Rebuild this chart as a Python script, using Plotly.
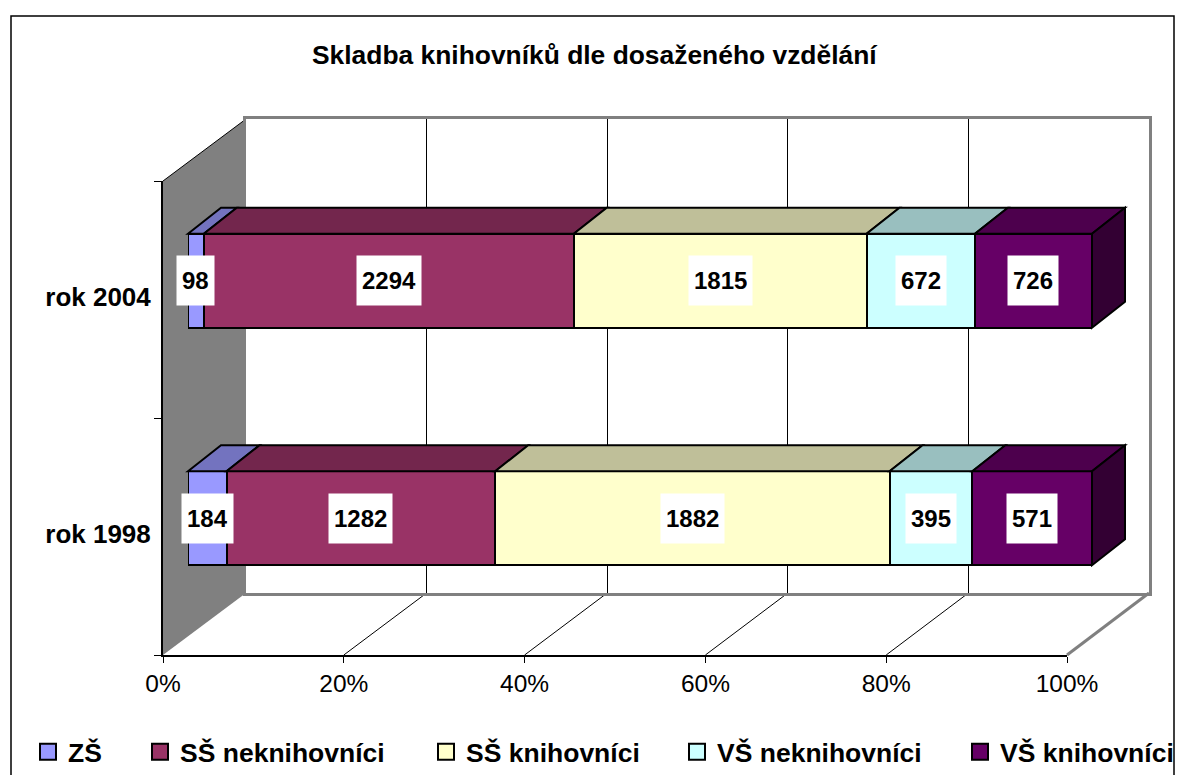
import plotly.graph_objects as go

W, H = 1178, 775

title = "Skladba knihovníků dle dosaženého vzdělání"
categories = ["rok 1998", "rok 2004"]
series_names = ["ZŠ", "SŠ neknihovníci", "SŠ knihovníci", "VŠ neknihovníci", "VŠ knihovníci"]
zs = [184, 98]
ss_nek = [1282, 2294]
ss_kni = [1882, 1815]
vs_nek = [395, 672]
vs_kni = [571, 726]
series_values = [zs, ss_nek, ss_kni, vs_nek, vs_kni]

front_colors = ["#9999FF", "#993366", "#FFFFCC", "#CCFFFF", "#660066"]
top_colors = ["#7373BF", "#73264D", "#BFBF99", "#99BFBF", "#4D004D"]
side_color = "#330033"
tick_vals = [0, 20, 40, 60, 80, 100]
legend_x_px = [28, 140, 426, 677, 960]

# layout geometry in pixels
FRONT_L, FRONT_R, FRONT_T, FRONT_B = 163, 1067, 181, 655
WALL_L, WALL_R, WALL_T, WALL_B = 246, 1149, 119, 593
BAR_L, BAR_R, BAR_T, BAR_B = 188, 1092, 162, 637
DX, DY = 33, -26
BAR_PX = 94
BAND_PX = (BAR_B - BAR_T) / 2


def X(p):
    return p / W


def Y(p):
    return 1 - p / H


def dom(a, b):
    return [a / W, b / W]


def ydom(top, bottom):
    return [1 - bottom / H, 1 - top / H]


def path(points):
    return "M " + " L ".join(f"{X(a):.5f},{Y(b):.5f}" for a, b in points) + " Z"


FONT = "Liberation Sans, Arial, sans-serif"
fig = go.Figure()

# subplot 1: the back wall, drawn first so the bars cover its grid
for name, color, lg in zip(series_names, front_colors, ["legend", "legend2", "legend3", "legend4", "legend5"]):
    fig.add_trace(go.Scatter(
        x=[None], y=[None], name=name, mode="markers", legend=lg, xaxis="x", yaxis="y",
        marker=dict(symbol="square", size=16, color=color, line=dict(color="black", width=2)),
        hoverinfo="skip"))

# subplot 2: the front axes, holding the tick labels
fig.add_trace(go.Scatter(x=[0, 0], y=categories, mode="none", xaxis="x2", yaxis="y2",
                         showlegend=False, hoverinfo="skip"))

# subplot 3: the stacked bars
for name, vals, color in zip(series_names, series_values, front_colors):
    fig.add_trace(go.Bar(
        y=categories, x=vals, name=name, orientation="h", xaxis="x3", yaxis="y3",
        showlegend=False, marker=dict(color=color, line=dict(color="black", width=2))))

shapes = []
annotations = []


def bar_px(value):
    return BAR_L + (BAR_R - BAR_L) * value / 100


# left wall, floor lines
shapes.append(dict(type="path", xref="paper", yref="paper", layer="below",
                   path=path([(FRONT_L, FRONT_T), (WALL_L, WALL_T), (WALL_L, WALL_B), (FRONT_L, FRONT_B)]),
                   fillcolor="#808080", line=dict(width=0)))
shapes.append(dict(type="line", xref="paper", yref="paper", layer="below",
                   x0=X(FRONT_L), y0=Y(FRONT_T), x1=X(WALL_L), y1=Y(WALL_T),
                   line=dict(color="black", width=1)))
for t in tick_vals[1:]:
    fx = FRONT_L + (FRONT_R - FRONT_L) * t / 100
    wx = WALL_L + (WALL_R - WALL_L) * t / 100
    shapes.append(dict(type="line", xref="paper", yref="paper", layer="below",
                       x0=X(fx), y0=Y(FRONT_B), x1=X(wx), y1=Y(WALL_B),
                       line=dict(color="#808080" if t == 100 else "black", width=3 if t == 100 else 1)))

# depth faces and labels, derived from the series values
for i, cat in enumerate(categories):
    total = sum(v[i] for v in series_values)
    yc = BAR_T + BAND_PX * (1.5 - i) + 0
    top, bottom = yc - BAR_PX / 2, yc + BAR_PX / 2
    cum = 0
    for vals, tcol in zip(series_values, top_colors):
        a = bar_px(100 * cum / total)
        cum += vals[i]
        b = bar_px(100 * cum / total)
        shapes.append(dict(type="path", xref="paper", yref="paper", layer="above",
                           path=path([(a, top), (a + DX, top + DY), (b + DX, top + DY), (b, top)]),
                           fillcolor=tcol, line=dict(color="black", width=2)))
        annotations.append(dict(
            x=100 * (cum - vals[i] / 2) / total, y=cat, xref="x3", yref="y3", text=str(vals[i]),
            showarrow=False, bgcolor="white", borderpad=5, height=39, valign="middle",
            font=dict(family=FONT, size=24, color="black", weight="bold")))
    shapes.append(dict(type="path", xref="paper", yref="paper", layer="above",
                       path=path([(BAR_R, top), (BAR_R + DX, top + DY), (BAR_R + DX, bottom + DY), (BAR_R, bottom)]),
                       fillcolor=side_color, line=dict(color="black", width=2)))

# outer chart frame
shapes.append(dict(type="rect", xref="paper", yref="paper", layer="below",
                   x0=X(11), x1=X(1174), y0=-0.02, y1=Y(16),
                   line=dict(color="black", width=1.5), fillcolor="rgba(0,0,0,0)"))

annotations.append(dict(x=X(594.5), y=Y(55), xref="paper", yref="paper", text=title, showarrow=False,
                        xanchor="center", yanchor="middle",
                        font=dict(family=FONT, size=26.4, color="black", weight="bold")))

layout = dict(
    width=W, height=H, margin=dict(l=0, r=0, t=0, b=0, pad=0, autoexpand=False),
    paper_bgcolor="white", plot_bgcolor="rgba(0,0,0,0)",
    barmode="stack", barnorm="percent", bargap=1 - BAR_PX / BAND_PX,
    hovermode=False, font=dict(family=FONT, color="black"),
    shapes=shapes, annotations=annotations,
    xaxis=dict(domain=dom(WALL_L, WALL_R), range=[0, 100], anchor="y", tickvals=tick_vals, showgrid=True,
               gridcolor="black", gridwidth=1, showticklabels=False, ticks="", zeroline=False,
               showline=True, mirror=True, linecolor="#808080", linewidth=3),
    yaxis=dict(domain=ydom(WALL_T, WALL_B), range=[0, 1], anchor="x", showgrid=False, showticklabels=False,
               ticks="", zeroline=False, showline=True, mirror=True, linecolor="#808080", linewidth=3),
    xaxis2=dict(domain=dom(FRONT_L, FRONT_R), range=[0, 100], anchor="y2", tickvals=tick_vals,
                ticktext=[f"{t}%" for t in tick_vals], ticks="outside", ticklen=6, tickcolor="black",
                tickwidth=1, showgrid=False, zeroline=False, showline=True, linecolor="black", linewidth=2,
                tickfont=dict(family=FONT, size=24.5, color="black")),
    yaxis2=dict(domain=ydom(FRONT_T, FRONT_B), type="category", categoryorder="array", categoryarray=categories,
                range=[-0.5, 1.5], anchor="x2", tickson="boundaries", ticks="outside", ticklen=7,
                tickcolor="black", tickwidth=1, showgrid=False, zeroline=False, showline=True,
                linecolor="black", linewidth=2, ticklabelstandoff=5, ticklabelshift=-3,
                tickfont=dict(family=FONT, size=26, color="black", weight="bold")),
    xaxis3=dict(domain=dom(BAR_L, BAR_R), range=[0, 100], anchor="y3", visible=False),
    yaxis3=dict(domain=ydom(BAR_T, BAR_B), type="category", categoryorder="array", categoryarray=categories,
                range=[-0.5, 1.5], anchor="x3", visible=False),
)

for i, px in enumerate(legend_x_px):
    key = "legend" if i == 0 else f"legend{i + 1}"
    layout[key] = dict(x=X(px), y=Y(752), xanchor="left", yanchor="middle", bgcolor="rgba(0,0,0,0)",
                       borderwidth=0, font=dict(family=FONT, size=26.5, color="black", weight="bold"),
                       itemclick=False, itemdoubleclick=False)

fig.update_layout(**layout)
fig.write_html("out.html", config=dict(displayModeBar=False),
               post_script="document.body.style.margin='0';document.body.style.overflow='hidden';")
